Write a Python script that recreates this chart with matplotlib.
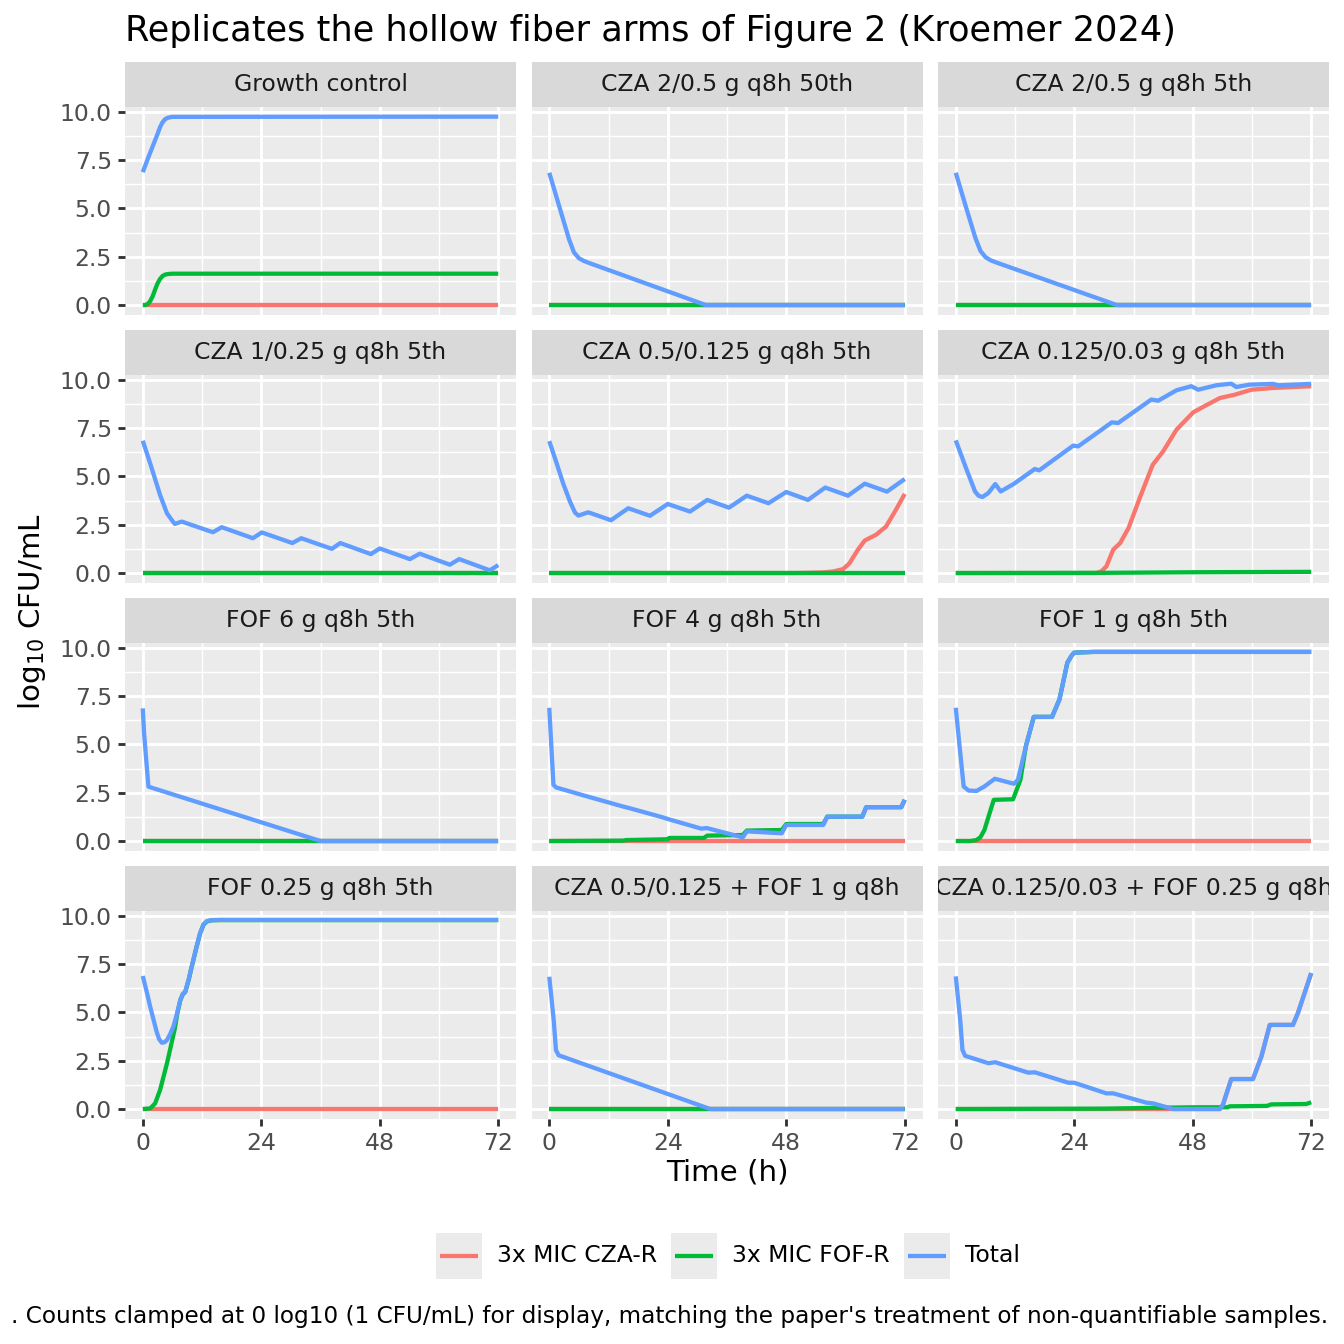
import matplotlib
matplotlib.use('Agg')
import matplotlib.pyplot as plt
from matplotlib.patches import Rectangle

# facet titles, in reading order
panel_names = ["Growth control", "CZA 2/0.5 g q8h 50th", "CZA 2/0.5 g q8h 5th",
               "CZA 1/0.25 g q8h 5th", "CZA 0.5/0.125 g q8h 5th", "CZA 0.125/0.03 g q8h 5th",
               "FOF 6 g q8h 5th", "FOF 4 g q8h 5th", "FOF 1 g q8h 5th",
               "FOF 0.25 g q8h 5th", "CZA 0.5/0.125 + FOF 1 g q8h", "CZA 0.125/0.03 + FOF 0.25 g q8h"]
series_names = ["3x MIC CZA-R", "3x MIC FOF-R", "Total"]
series_colors = ["#F8766D", "#00BA38", "#619CFF"]

flat_t = [0, 72]
flat_v = [0, 0]

# Growth control
p1_t_tot = [0, 1, 2, 3, 3.5, 4, 4.5, 5, 6, 72]
p1_tot = [6.87, 7.55, 8.2, 8.85, 9.2, 9.45, 9.6, 9.68, 9.73, 9.74]
p1_t_fof = [0, 0.5, 1, 1.5, 2, 2.5, 3, 3.5, 4, 4.5, 5, 6, 72]
p1_fof = [0, 0, 0.05, 0.2, 0.45, 0.8, 1.12, 1.35, 1.5, 1.57, 1.6, 1.62, 1.62]

# CZA 2/0.5 50th
p2_t_tot = [0, 1, 2, 3, 4, 5, 6, 7, 8, 31.7, 72]
p2_tot = [6.84, 5.98, 5.12, 4.26, 3.4, 2.72, 2.42, 2.28, 2.18, 0, 0]

# CZA 2/0.5 5th
p3_t_tot = [0, 1, 2, 3, 4, 5, 6, 7, 8, 32.6, 72]
p3_tot = [6.84, 5.98, 5.12, 4.28, 3.45, 2.8, 2.48, 2.32, 2.22, 0, 0]

# CZA 1/0.25 5th
p4_t_tot = [0, 1.5, 3.5, 4.9, 6.1, 6.5, 7.9, 14.2, 16, 22.3, 24.1, 30.3, 32.1, 38.3, 40,
            46.2, 48, 54.1, 56.1, 62.2, 64.1, 70.3, 72]
p4_tot = [6.84, 5.67, 4.04, 3.09, 2.66, 2.54, 2.66, 2.11, 2.37, 1.80, 2.10, 1.55, 1.80, 1.25, 1.55,
          0.98, 1.27, 0.72, 1.0, 0.43, 0.72, 0.14, 0.41]

# CZA 0.5/0.125 5th
p5_t_tot = [0, 1.5, 2.8, 4.2, 5.2, 5.9, 7.9, 12.5, 16, 20.4, 24, 28.5, 32, 36.4, 40, 44.4, 48,
            52.4, 55.9, 60.5, 63.9, 68.4, 72]
p5_tot = [6.82, 5.67, 4.64, 3.69, 3.13, 2.97, 3.14, 2.73, 3.35, 2.96, 3.57, 3.18, 3.78, 3.38, 4.0,
          3.61, 4.19, 3.78, 4.42, 4.0, 4.62, 4.21, 4.86]
p5_t_cza = [0, 50, 55.4, 57.5, 59.5, 60.8, 62.5, 63.9, 66.2, 68.2, 70.2, 72]
p5_cza = [0, 0, 0.03, 0.08, 0.2, 0.5, 1.2, 1.68, 1.98, 2.4, 3.26, 4.09]

# CZA 0.125/0.03 5th
p6_t_tot = [0, 2.2, 3.9, 4.6, 5.4, 6.6, 8, 9.1, 11.7, 16, 16.9, 23.8, 24.8, 31.6, 32.9, 39.6, 41,
            44.7, 47.7, 49.1, 52.8, 55.8, 56.8, 59.5, 64.3, 65.3, 72]
p6_tot = [6.86, 5.34, 4.22, 4.0, 3.93, 4.14, 4.6, 4.22, 4.6, 5.38, 5.31, 6.59, 6.55, 7.79, 7.76,
          8.97, 8.91, 9.45, 9.66, 9.48, 9.71, 9.79, 9.62, 9.74, 9.78, 9.71, 9.78]
p6_t_cza = [0, 28.5, 29.5, 30.5, 31.9, 33.3, 35, 37.4, 39.9, 42, 44.7, 48.1, 50.1, 53.5, 56.5,
            59.9, 64.3, 72]
p6_cza = [0, 0, 0.09, 0.34, 1.21, 1.55, 2.33, 3.97, 5.6, 6.29, 7.41, 8.31, 8.59, 9.05, 9.22,
          9.48, 9.57, 9.66]
p6_t_fof = [0, 30, 48, 72]
p6_fof = [0, 0.01, 0.04, 0.06]

# FOF 6 g
p7_t_tot = [0, 0.27, 0.7, 1.15, 36, 72]
p7_tot = [6.86, 5.57, 4.19, 2.81, 0, 0]

# FOF 4 g
p8_t_tot = [0, 0.84, 1.4, 7.2, 8.2, 15, 16.1, 22.9, 24, 30.8, 31.9, 39.2, 40, 47.1, 48, 55.5,
            56.3, 63.4, 64.2, 71.3, 72]
p8_tot = [6.89, 2.91, 2.77, 2.34, 2.27, 1.78, 1.71, 1.23, 1.14, 0.64, 0.67, 0.19, 0.5, 0.4,
          0.83, 0.83, 1.26, 1.26, 1.75, 1.75, 2.13]
p8_t_fof = [0, 15, 15.6, 24, 24.3, 31.3, 32, 39.2, 40, 47.1, 48, 55.5, 56.3, 63.4, 64.2, 71.3, 72]
p8_fof = [0, 0.02, 0.05, 0.09, 0.16, 0.16, 0.28, 0.31, 0.54, 0.57, 0.88, 0.88, 1.26, 1.26, 1.75,
          1.75, 2.13]

# FOF 1 g
p9_t_tot = [0, 0.84, 1.6, 2.6, 4.2, 5.8, 7.9, 10, 11.8, 12.6, 14.2, 15.8, 19.5, 21, 22.6, 23.5,
            24, 27.9, 72]
p9_tot = [6.89, 4.72, 2.82, 2.61, 2.59, 2.82, 3.22, 3.08, 2.96, 3.17, 4.9, 6.42, 6.42, 7.32, 9.22,
          9.6, 9.74, 9.78, 9.78]
p9_t_fof = [0, 3, 4.2, 5, 5.8, 6.8, 7.7, 11.6, 13.1, 14.2, 15.8, 19.5, 21, 22.6, 23.5, 24, 27.9, 72]
p9_fof = [0, 0, 0.05, 0.2, 0.57, 1.4, 2.13, 2.16, 3.17, 4.9, 6.42, 6.42, 7.32, 9.22, 9.6, 9.74,
          9.78, 9.78]

# FOF 0.25 g
p10_t_tot = [0, 1, 1.5, 2.2, 2.8, 3.3, 3.85, 4.4, 4.9, 5.5, 6.2, 7, 7.6, 8.1, 8.6, 9.3, 9.9,
             10.8, 11.6, 12.3, 13, 14, 15.7, 72]
p10_tot = [6.88, 5.85, 5.29, 4.6, 4.0, 3.62, 3.43, 3.45, 3.57, 3.85, 4.26, 5.0, 5.64, 5.95, 6.07,
           6.7, 7.36, 8.3, 9.09, 9.55, 9.72, 9.77, 9.78, 9.78]
p10_t_fof = [0, 1.5, 2.5, 3.5, 4.9, 6.5, 7, 7.6, 8.1, 8.6, 9.3, 9.9, 10.8, 11.6, 12.3, 13, 14,
             15.7, 72]
p10_fof = [0, 0.03, 0.29, 0.98, 2.36, 4.17, 4.95, 5.62, 5.93, 6.05, 6.68, 7.34, 8.28, 9.07, 9.53,
           9.7, 9.76, 9.77, 9.77]

# CZA 0.5/0.125 + FOF 1 g
p11_t_tot = [0, 0.9, 1.35, 1.9, 32.6, 72]
p11_tot = [6.84, 4.6, 3.05, 2.78, 0, 0]

# CZA 0.125/0.03 + FOF 0.25 g
p12_t_tot = [0, 0.9, 1.35, 1.9, 6.6, 8, 14.7, 16, 22.8, 24, 30.5, 31.9, 38.6, 40, 44, 53.5,
             54.1, 55.8, 60.2, 61.9, 63.6, 68.3, 69.3, 72]
p12_tot = [6.86, 4.61, 3.06, 2.75, 2.37, 2.42, 1.88, 1.9, 1.36, 1.36, 0.81, 0.81, 0.33, 0.29,
           0.0, 0.0, 0.21, 1.55, 1.55, 2.71, 4.35, 4.35, 4.96, 7.03]
p12_t_cza = [0, 44, 53.5, 54.1, 55.8, 60.2, 61.9, 63.6, 68.3, 69.3, 72]
p12_cza = [0, 0, 0, 0.21, 1.55, 1.55, 2.71, 4.35, 4.35, 4.96, 7.03]
p12_t_fof = [0, 30, 48, 55, 55.5, 63, 63.9, 71, 72]
p12_fof = [0, 0.02, 0.09, 0.09, 0.14, 0.16, 0.24, 0.26, 0.35]

# (cza, fof, total) for each facet
panel_data = [
    ((flat_t, flat_v), (p1_t_fof, p1_fof), (p1_t_tot, p1_tot)),
    ((flat_t, flat_v), (flat_t, flat_v), (p2_t_tot, p2_tot)),
    ((flat_t, flat_v), (flat_t, flat_v), (p3_t_tot, p3_tot)),
    ((flat_t, flat_v), (flat_t, flat_v), (p4_t_tot, p4_tot)),
    ((p5_t_cza, p5_cza), (flat_t, flat_v), (p5_t_tot, p5_tot)),
    ((p6_t_cza, p6_cza), (p6_t_fof, p6_fof), (p6_t_tot, p6_tot)),
    ((flat_t, flat_v), (flat_t, flat_v), (p7_t_tot, p7_tot)),
    ((flat_t, flat_v), (p8_t_fof, p8_fof), (p8_t_tot, p8_tot)),
    ((flat_t, flat_v), (p9_t_fof, p9_fof), (p9_t_tot, p9_tot)),
    ((flat_t, flat_v), (p10_t_fof, p10_fof), (p10_t_tot, p10_tot)),
    ((flat_t, flat_v), (flat_t, flat_v), (p11_t_tot, p11_tot)),
    ((p12_t_cza, p12_cza), (p12_t_fof, p12_fof), (p12_t_tot, p12_tot)),
]

W = H = 1344
fig = plt.figure(figsize=(7, 7), dpi=192)
fig.patch.set_facecolor('white')


def px_axes(left, top, w, h):
    return fig.add_axes([left / W, 1 - (top + h) / H, w / W, h / H])


col_left = [125, 531.5, 938]
row_top = [62, 330, 598, 866]
strip_h = 45
pan_w = 391
pan_h = 207.5
line_w = 1.6

for i, name in enumerate(panel_names):
    r, c = divmod(i, 3)
    ax = px_axes(col_left[c], row_top[r] + strip_h, pan_w, pan_h)
    ax.set_facecolor('#EBEBEB')
    for sp in ax.spines.values():
        sp.set_visible(False)
    ax.set_xlim(-3.6, 75.6)
    ax.set_ylim(-0.49, 10.24)
    ax.set_xticks([0, 24, 48, 72])
    ax.set_xticks([12, 36, 60], minor=True)
    ax.set_yticks([0, 2.5, 5, 7.5, 10])
    ax.set_yticks([1.25, 3.75, 6.25, 8.75], minor=True)
    ax.set_yticklabels(['0.0', '2.5', '5.0', '7.5', '10.0'])
    ax.grid(which='major', color='white', lw=1.07)
    ax.grid(which='minor', color='white', lw=0.53)
    ax.set_axisbelow(True)
    ax.tick_params(which='minor', length=0)
    ax.tick_params(which='major', length=2.75, width=1.07, color='#333333',
                   labelcolor='#4D4D4D', labelsize=8.8, pad=2.2)
    if c != 0:
        ax.tick_params(axis='y', left=False, labelleft=False)
    if r != 3:
        ax.tick_params(axis='x', bottom=False, labelbottom=False)
    for (t, v), col in zip(panel_data[i], series_colors):
        ax.plot(t, v, color=col, lw=line_w, solid_capstyle='butt', solid_joinstyle='round')

    sx = px_axes(col_left[c], row_top[r], pan_w, strip_h)
    sx.set_facecolor('#D9D9D9')
    sx.set_xticks([])
    sx.set_yticks([])
    for sp in sx.spines.values():
        sp.set_visible(False)
    sx.text(0.5, 0.5, name, transform=sx.transAxes, ha='center', va='center',
            fontsize=8.8, color='#1A1A1A', clip_on=True)

# overlay in pixel coordinates for titles, legend and caption
ov = fig.add_axes([0, 0, 1, 1])
ov.set_xlim(0, W)
ov.set_ylim(H, 0)
ov.axis('off')

ov.text(125, 41, "Replicates the hollow fiber arms of Figure 2 (Kroemer 2024)",
        fontsize=13.2, ha='left', va='baseline', color='black')
ov.text(32, 612, r'log$_{10}$ CFU/mL', rotation=90, fontsize=11, ha='center', va='center')
ov.text(727, 1172, 'Time (h)', fontsize=11, ha='center', va='center')

key_left = [436, 671, 904]
text_left = [497, 732, 965]
for kl, tl, nm, col in zip(key_left, text_left, series_names, series_colors):
    ov.add_patch(Rectangle((kl, 1233), 46, 46, facecolor='#EBEBEB', edgecolor='none'))
    ov.plot([kl + 4, kl + 42], [1256, 1256], color=col, lw=line_w, solid_capstyle='butt')
    ov.text(tl, 1256, nm, fontsize=8.8, ha='left', va='center', color='black')

ov.text(1328, 1316, ". Counts clamped at 0 log10 (1 CFU/mL) for display, matching the paper's "
        "treatment of non-quantifiable samples.", fontsize=8.7, ha='right', va='center')

fig.savefig('out.png', dpi=192)
